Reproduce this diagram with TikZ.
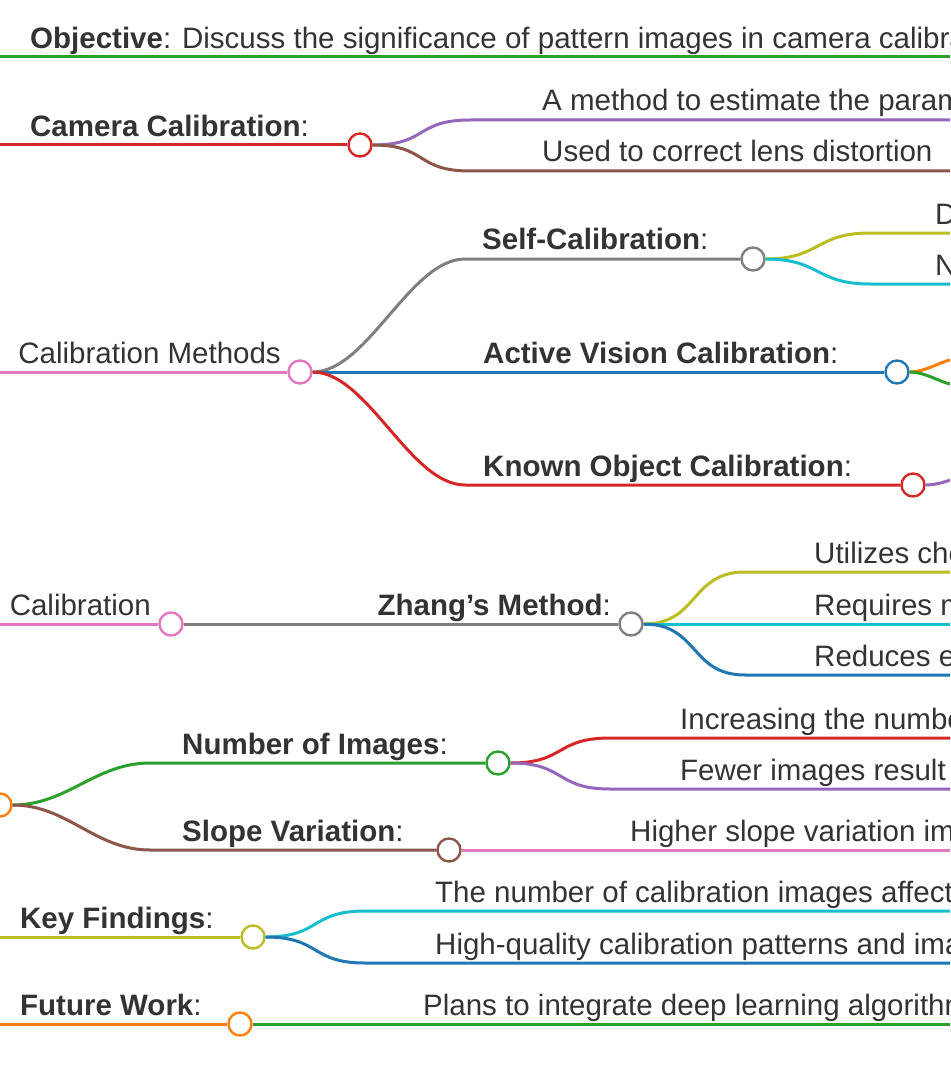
\documentclass[tikz,border=0pt]{standalone}
\usepackage{fontspec}
\setmainfont{Liberation Sans}
\definecolor{cgreen}{HTML}{2CA02C}
\definecolor{cred}{HTML}{D62728}
\definecolor{cpurple}{HTML}{9467BD}
\definecolor{cbrown}{HTML}{8C564B}
\definecolor{cpink}{HTML}{E377C2}
\definecolor{cgray}{HTML}{7F7F7F}
\definecolor{colive}{HTML}{BCBD22}
\definecolor{ccyan}{HTML}{17BECF}
\definecolor{cblue}{HTML}{1F77B4}
\definecolor{corange}{HTML}{FF7F0E}
\definecolor{ctext}{HTML}{333333}
\tikzset{
  edge/.style = {line width = 3pt},
  knot/.style = {circle, draw = #1, fill = white, line width = 2.4pt, minimum size = 23pt, inner sep = 0pt},
  lbl/.style = {anchor = base west, inner sep = 0pt, text = ctext, font = \fontsize{29.5}{33}\selectfont}
}
\newcommand{\bra}[4]{% color, from, to-start, to-end
  \draw[edge, #1] (#2) .. controls ($(#2)+(55,0)$) and ($(#3)+(-55,0)$) .. (#3) -- (#4);}
\usetikzlibrary{calc}
\begin{document}
\begin{tikzpicture}[x = 1pt, y = -1pt]
\useasboundingbox (0, 0) rectangle (950, 1078);
\clip (0, 0) rectangle (950, 1078);
% objective
\draw[edge, cgreen] (0, 57) -- (950, 57);
\node[lbl] (obj) at (30, 49) {\textbf{Objective}: Discuss the significance of pattern images in camera calibration};
% camera calibration
\node[knot = cred] (cc) at (360, 145) {};
\draw[edge, cred] (0, 145) -- (cc);
\node[lbl] (cct) at (30, 137) {\textbf{Camera Calibration}:};
\coordinate (cc1) at (470, 120); \coordinate (cc1e) at (950, 120);
\coordinate (cc2) at (470, 171); \coordinate (cc2e) at (950, 171);
\bra{cpurple}{cc.east}{cc1}{cc1e}
\bra{cbrown}{cc.east}{cc2}{cc2e}
\node[lbl] at (542, 111) {A method to estimate the parameters of a camera};
\node[lbl] at (542, 162) {Used to correct lens distortion};
% calibration methods
\node[knot = cpink] (cm) at (300, 372) {};
\draw[edge, cpink] (0, 372) -- (cm);
\node[lbl, anchor = base east] at (281, 363) {Calibration Methods};
\node[knot = cgray] (sc) at (753, 259) {};
\node[knot = cblue] (av) at (897, 372) {};
\node[knot = cred] (ko) at (913, 485) {};
\coordinate (sc0) at (465, 259); \coordinate (ko0) at (465, 485);
\bra{cgray}{cm.east}{sc0}{sc.west}
\draw[edge, cblue] (cm.east) -- (av.west);
\bra{cred}{cm.east}{ko0}{ko.west}
\node[lbl] at (482, 249) {\textbf{Self-Calibration}:};
\node[lbl] at (483, 363) {\textbf{Active Vision Calibration}:};
\node[lbl] at (483, 476) {\textbf{Known Object Calibration}:};
\coordinate (sc1) at (870, 233); \coordinate (sc1e) at (950, 233);
\coordinate (sc2) at (870, 284); \coordinate (sc2e) at (950, 284);
\bra{colive}{sc.east}{sc1}{sc1e}
\bra{ccyan}{sc.east}{sc2}{sc2e}
\node[lbl] at (935, 224) {Depends};
\node[lbl] at (935, 275) {No};
\draw[edge, corange] (av.east) .. controls (925, 372) and (940, 362) .. (950, 360);
\draw[edge, cgreen] (av.east) .. controls (925, 372) and (940, 382) .. (950, 384);
\draw[edge, cpurple] (ko.east) .. controls (935, 485) and (945, 482) .. (950, 480);
% calibration
\node[knot = cpink] (cal) at (171, 624) {};
\draw[edge, cpink] (0, 624) -- (cal);
\node[lbl, anchor = base east] at (151, 615) {Calibration};
\node[knot = cgray] (zm) at (631, 624) {};
\draw[edge, cgray] (cal) -- (zm);
\node[lbl, anchor = base east] at (611, 615) {\textbf{Zhang’s Method}:};
\coordinate (zm1) at (745, 572); \coordinate (zm1e) at (950, 572);
\coordinate (zm3) at (745, 675); \coordinate (zm3e) at (950, 675);
\bra{colive}{zm.east}{zm1}{zm1e}
\draw[edge, ccyan] (zm.east) -- (950, 624);
\bra{cblue}{zm.east}{zm3}{zm3e}
\node[lbl] at (814, 563) {Utilizes checkerboard patterns};
\node[lbl] at (814, 615) {Requires multiple views};
\node[lbl] at (814, 666) {Reduces errors};
% factors
\node[knot = corange] (fa) at (0, 805) {};
\node[knot = cgreen] (ni) at (498, 763) {};
\node[knot = cbrown] (sv) at (449, 850) {};
\coordinate (ni0) at (150, 763); \coordinate (sv0) at (150, 850);
\bra{cgreen}{fa.east}{ni0}{ni.west}
\bra{cbrown}{fa.east}{sv0}{sv.west}
\node[lbl] at (182, 754) {\textbf{Number of Images}:};
\node[lbl] at (182, 841) {\textbf{Slope Variation}:};
\coordinate (ni1) at (610, 738); \coordinate (ni1e) at (950, 738);
\coordinate (ni2) at (610, 789); \coordinate (ni2e) at (950, 789);
\bra{cred}{ni.east}{ni1}{ni1e}
\bra{cpurple}{ni.east}{ni2}{ni2e}
\node[lbl] at (680, 729) {Increasing the number of images};
\node[lbl] at (680, 780) {Fewer images result in errors};
\draw[edge, cpink] (sv.east) -- (950, 850);
\node[lbl] at (630, 841) {Higher slope variation improves accuracy};
% key findings
\node[knot = colive] (kf) at (253, 937) {};
\draw[edge, colive] (0, 937) -- (kf);
\node[lbl] at (20, 928) {\textbf{Key Findings}:};
\coordinate (kf1) at (365, 911); \coordinate (kf1e) at (950, 911);
\coordinate (kf2) at (365, 963); \coordinate (kf2e) at (950, 963);
\bra{ccyan}{kf.east}{kf1}{kf1e}
\bra{cblue}{kf.east}{kf2}{kf2e}
\node[lbl] at (435, 902) {The number of calibration images affects accuracy};
\node[lbl] at (435, 954) {High-quality calibration patterns and images};
% future work
\node[knot = corange] (fw) at (240, 1024) {};
\draw[edge, corange] (0, 1024) -- (fw);
\node[lbl] at (20, 1015) {\textbf{Future Work}:};
\draw[edge, cgreen] (fw) -- (950, 1024);
\node[lbl] at (423, 1015) {Plans to integrate deep learning algorithms};
\end{tikzpicture}
\end{document}
